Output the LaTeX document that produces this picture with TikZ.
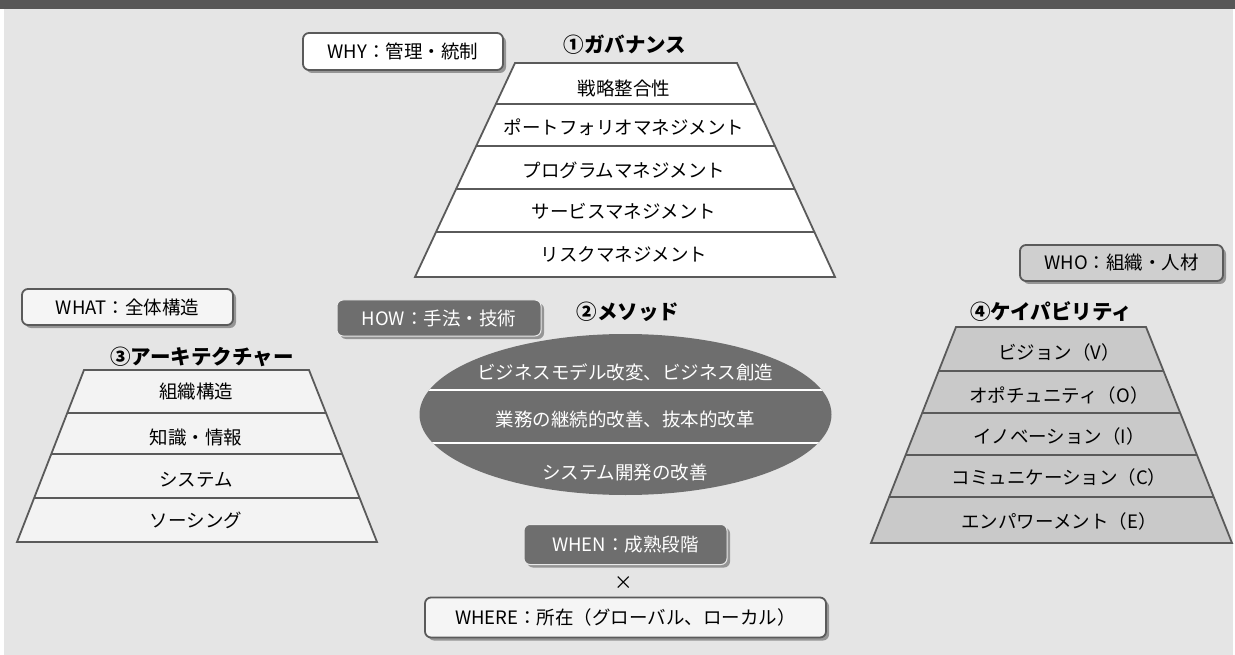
\documentclass[tikz,border=0pt]{standalone}
\usepackage{fontspec}
\setmainfont{Noto Sans CJK JP}
\usetikzlibrary{shadows,calc}
\definecolor{barc}{HTML}{575656}
\definecolor{bgc}{HTML}{E5E5E5}
\definecolor{linec}{HTML}{5A5A5A}
\definecolor{darkc}{HTML}{6E6E6E}
\definecolor{capc}{HTML}{C9C9C9}
\definecolor{archc}{HTML}{F3F3F3}
\definecolor{whoc}{HTML}{CFCFCF}
\definecolor{paper}{HTML}{F5F5F5}
\begin{document}
\begin{tikzpicture}[x=1pt,y=-1pt,
  txt/.style={font=\fontsize{18.5}{20}\selectfont, inner sep=0pt},
  wtxt/.style={txt, text=white},
  ttl/.style={font=\fontsize{20.5}{22}\selectfont\bfseries, inner sep=0pt},
  trap/.style={draw=linec, line width=1.8pt, line join=miter},
  rowline/.style={draw=linec, line width=1.5pt},
  tag/.style={rounded corners=6pt, line width=1.8pt, draw=linec, inner sep=0pt,
    font=\fontsize{18.5}{20}\selectfont,
    drop shadow={shadow xshift=3pt, shadow yshift=-3pt, opacity=0.35, fill=black}},
  darktag/.style={tag, fill=darkc, draw=white!85!darkc, line width=1pt, text=white},
]
\useasboundingbox (0,0) rectangle (1235,655);
% background
\fill[bgc] (4,0) rectangle (1233,655);
\fill[barc] (0,0) rectangle (1235,9);

% ---------- (1) Governance ----------
\coordinate (gTL) at (515,63);
\coordinate (gTR) at (737,63);
\coordinate (gBR) at (835,277);
\coordinate (gBL) at (415,277);
\filldraw[trap, fill=white] (gTL) -- (gTR) -- (gBR) -- (gBL) -- cycle;
\foreach \t in {0.1916,0.3879,0.5888,0.7897}
  \draw[rowline] ($(gTL)!\t!(gBL)$) -- ($(gTR)!\t!(gBR)$);
\node[ttl] (gtitle) at (625,45) {①ガバナンス};
\node[txt] (g1) at (624,88) {戦略整合性};
\node[txt] (g2) at (624,127) {ポートフォリオマネジメント};
\node[txt] (g3) at (624,170) {プログラムマネジメント};
\node[txt] (g4) at (624,211) {サービスマネジメント};
\node[txt] (g5) at (624,254) {リスクマネジメント};
\node[tag, fill=white, minimum width=200pt, minimum height=37pt] (why) at (403,51.5) {WHY：管理・統制};

% ---------- (3) Architecture ----------
\coordinate (aTL) at (84,370);
\coordinate (aTR) at (309,370);
\coordinate (aBR) at (377,542);
\coordinate (aBL) at (17,542);
\filldraw[trap, fill=archc] (aTL) -- (aTR) -- (aBR) -- (aBL) -- cycle;
\foreach \t in {0.25,0.4884,0.7442}
  \draw[rowline] ($(aTL)!\t!(aBL)$) -- ($(aTR)!\t!(aBR)$);
\node[ttl] (atitle) at (202,357) {③アーキテクチャー};
\node[txt] (a1) at (196,392) {組織構造};
\node[txt] (a2) at (196,438) {知識・情報};
\node[txt] (a3) at (196,480) {システム};
\node[txt] (a4) at (196,520) {ソーシング};
\node[tag, fill=paper, minimum width=211pt, minimum height=36pt] (what) at (127.5,307) {WHAT：全体構造};

% ---------- (2) Method ----------
\fill[darkc] (625.5,414.5) ellipse [x radius=206, y radius=80.5];
\begin{scope}
  \clip (625.5,414.5) ellipse [x radius=206, y radius=80.5];
  \draw[white, line width=2pt] (410,389.5) -- (840,389.5);
  \draw[white, line width=2pt] (410,442.5) -- (840,442.5);
\end{scope}
\node[ttl] (mtitle) at (628,312) {②メソッド};
\node[wtxt] (m1) at (625,372) {ビジネスモデル改変、ビジネス創造};
\node[wtxt] (m2) at (625,419) {業務の継続的改善、抜本的改革};
\node[wtxt] (m3) at (625,472) {システム開発の改善};
\node[darktag, minimum width=204pt, minimum height=36pt] (how) at (439,318) {HOW：手法・技術};

% ---------- (4) Capability ----------
\coordinate (cTL) at (956,327);
\coordinate (cTR) at (1146,327);
\coordinate (cBR) at (1232,543);
\coordinate (cBL) at (871,543);
\filldraw[trap, fill=capc] (cTL) -- (cTR) -- (cBR) -- (cBL) -- cycle;
\foreach \t in {0.2037,0.3981,0.5926,0.787}
  \draw[rowline] ($(cTL)!\t!(cBL)$) -- ($(cTR)!\t!(cBR)$);
\node[ttl] (ctitle) at (1051,312) {④ケイパビリティ};
\node[txt] (c1) at (1059,352) {ビジョン（V）};
\node[txt] (c2) at (1059,395) {オポチュニティ（O）};
\node[txt] (c3) at (1059,436) {イノベーション（I）};
\node[txt] (c4) at (1059,477) {コミュニケーション（C）};
\node[txt] (c5) at (1059,521) {エンパワーメント（E）};
\node[tag, fill=whoc, minimum width=203pt, minimum height=36pt] (who) at (1121.5,263) {WHO：組織・人材};

% ---------- When / Where ----------
\node[darktag, minimum width=203pt, minimum height=40pt] (when) at (625.5,544.5) {WHEN：成熟段階};
\node[txt] (times) at (623.5,583) {×};
\node[tag, fill=paper, minimum width=401pt, minimum height=40pt] (where) at (625.5,617.5) {WHERE：所在（グローバル、ローカル）};
\end{tikzpicture}
\end{document}
